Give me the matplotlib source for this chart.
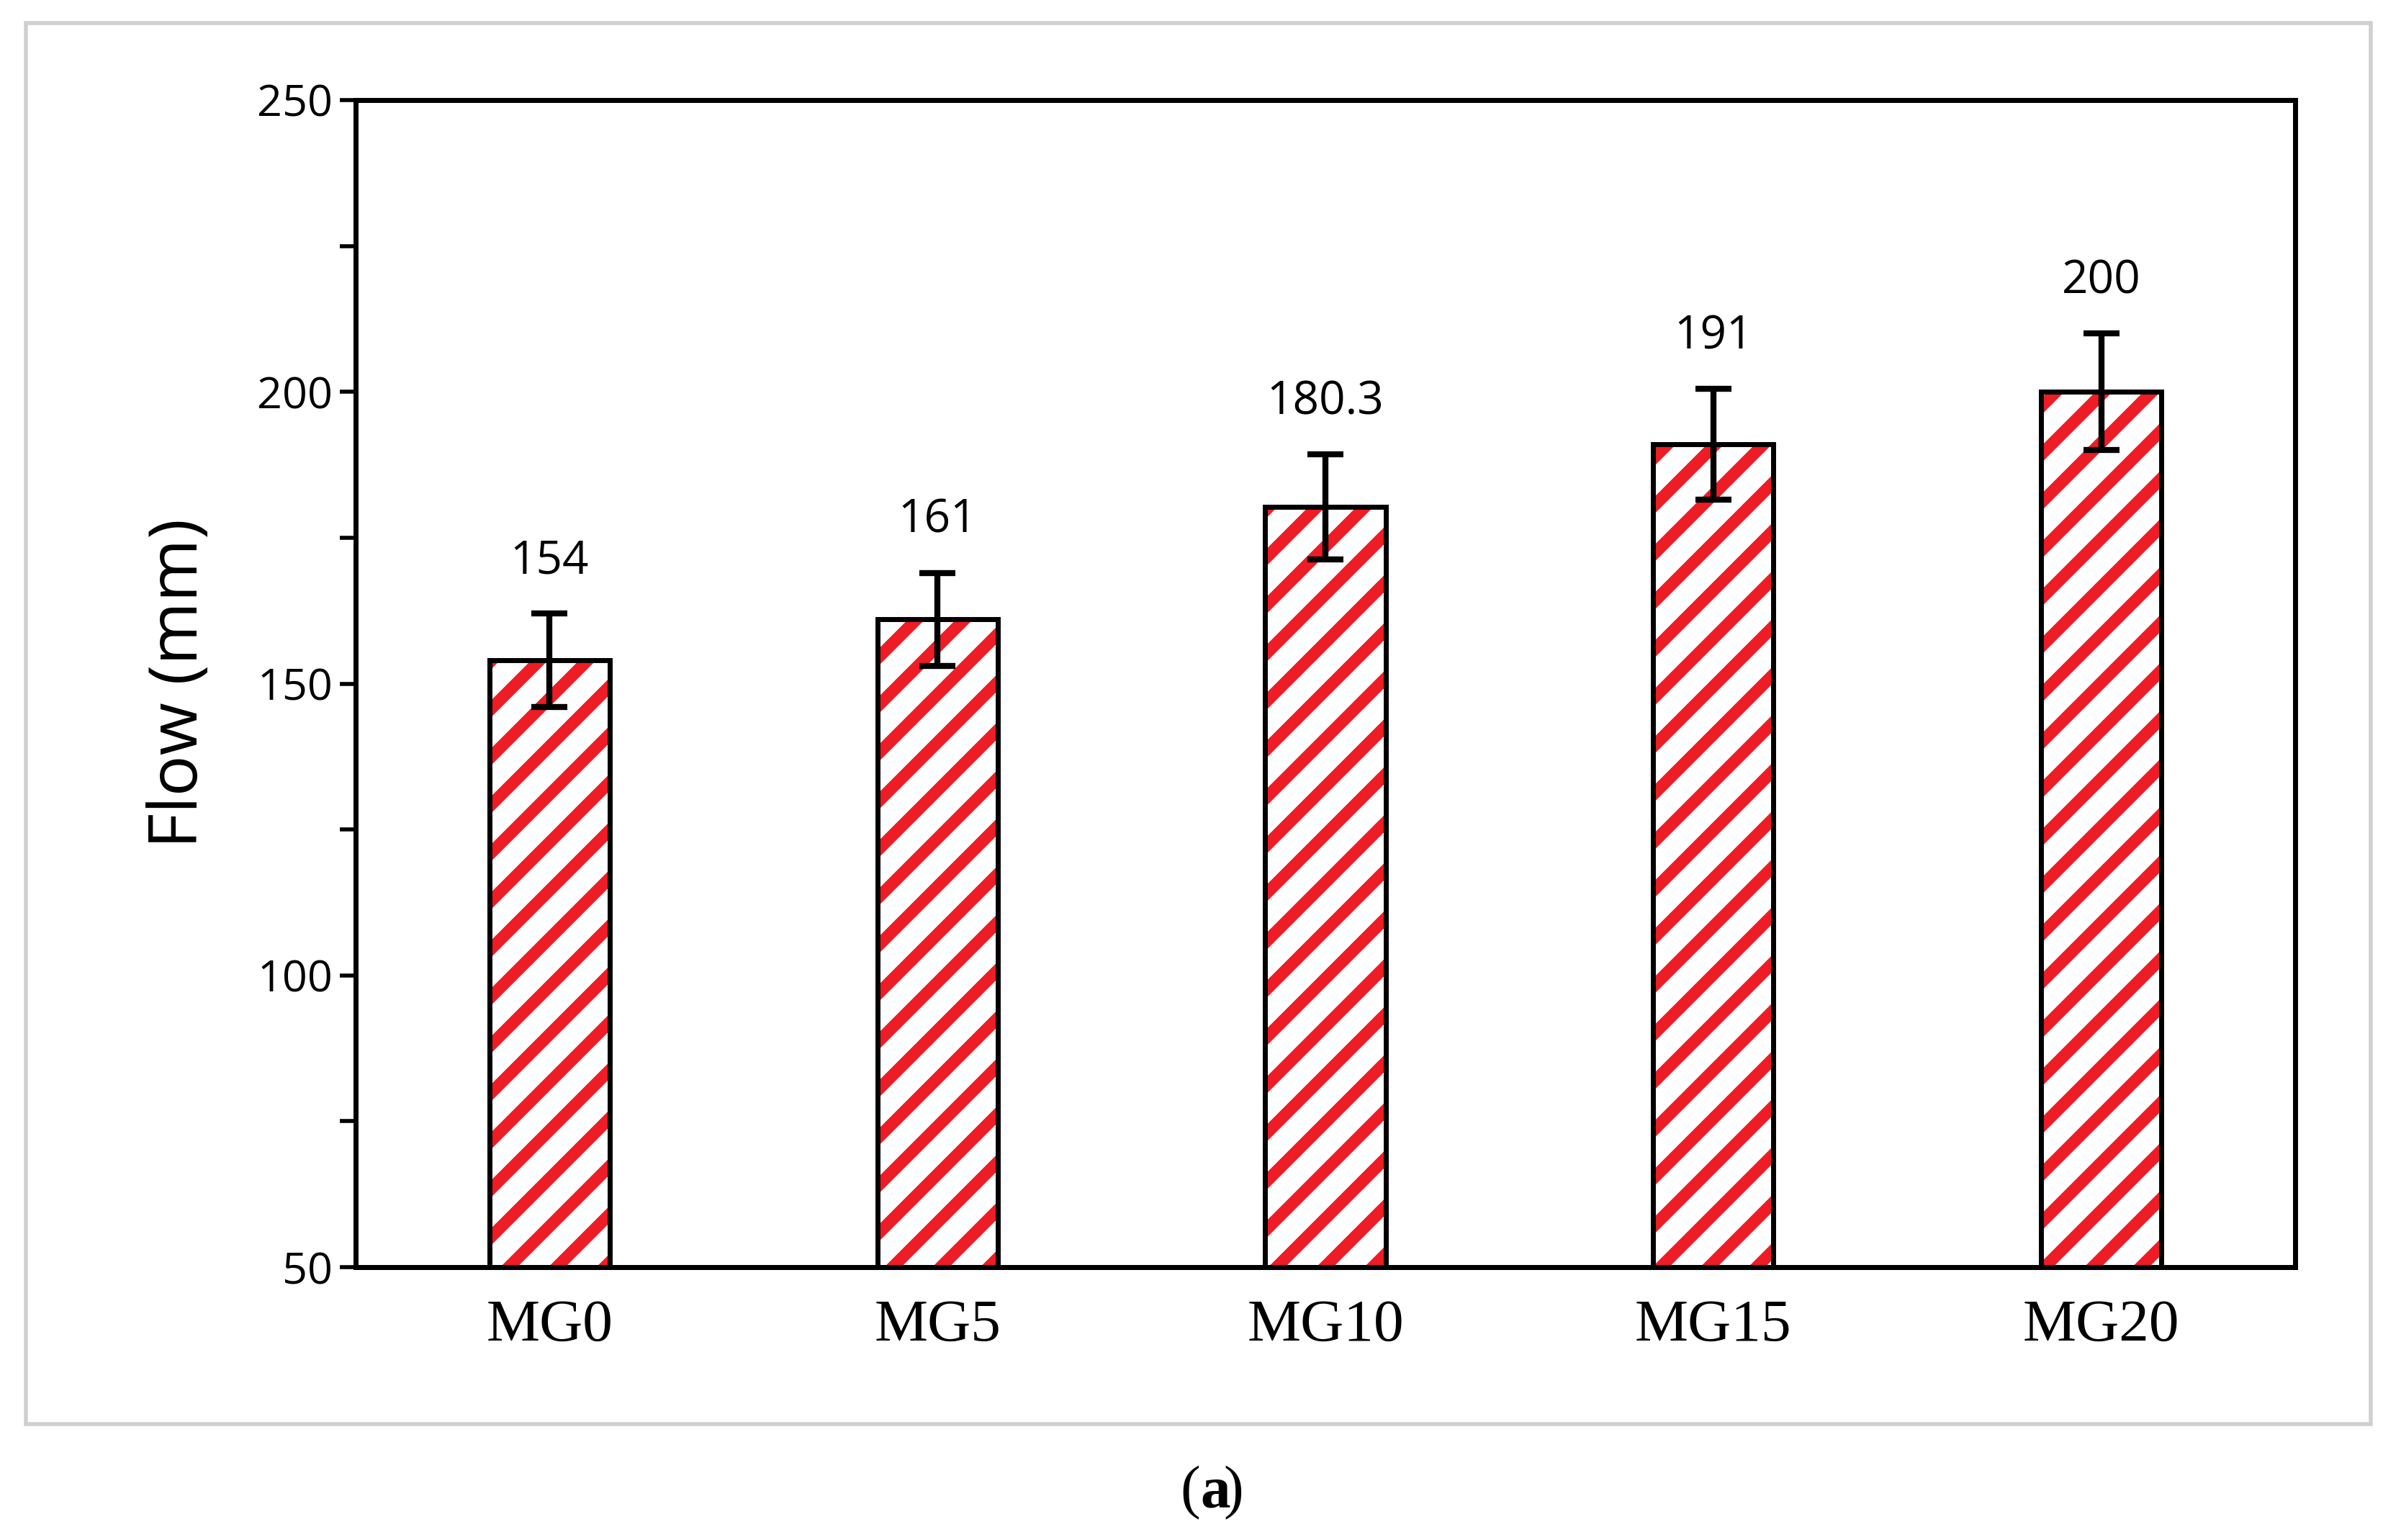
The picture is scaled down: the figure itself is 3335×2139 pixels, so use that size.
import numpy as np
import matplotlib.pyplot as plt
from matplotlib.patches import Rectangle

labels = ['MG0', 'MG5', 'MG10', 'MG15', 'MG20']
flow = [154, 161, 180.3, 191, 200]
err = [8, 8, 9, 9.5, 10]
value_text = ['154', '161', '180.3', '191', '200']

plt.rcParams['hatch.linewidth'] = 6
plt.rcParams['hatch.color'] = '#ee1c25'

fig = plt.figure(figsize=(16.675, 10.695), dpi=200)
# light grey frame around the chart
fig.patches.append(Rectangle((36 / 3335, 1 - 1978 / 2139), (3293 - 36) / 3335, (1978 - 32) / 2139,
                             transform=fig.transFigure, fill=False, edgecolor='#d0d0d0', linewidth=2))
ax = fig.add_axes([494 / 3335, 1 - 1760 / 2139, (3188 - 494) / 3335, (1760 - 139) / 2139])

x = np.arange(len(labels))
ax.bar(x, np.array(flow) - 50, bottom=50, width=0.31, color='white', hatch='/',
       edgecolor='#ee1c25', linewidth=0)
ax.bar(x, np.array(flow) - 50, bottom=50, width=0.31, fill=False, edgecolor='black', linewidth=2.5)
ax.errorbar(x, flow, yerr=err, fmt='none', ecolor='black', elinewidth=3, capsize=9, capthick=3)
for xi, v, t, e in zip(x, flow, value_text, err):
    ax.text(xi, v + e + 5, t, ha='center', va='bottom', fontsize=23, family='Open Sans')

ax.set_xlim(-0.5, 4.5)
ax.set_ylim(50, 250)
ax.set_yticks(range(50, 251, 50))
ax.set_yticks(range(50, 251, 25), minor=True)
ax.set_xticks(x)
ax.set_xticklabels(labels, fontsize=30, family='Liberation Serif')
ax.tick_params(axis='x', length=0, pad=16)
ax.tick_params(axis='y', which='both', direction='out', length=8, width=2, labelsize=22)
for lab in ax.get_yticklabels():
    lab.set_family('Open Sans')
for s in ax.spines.values():
    s.set_linewidth(2.5)
ax.set_ylabel('Flow (mm)', fontsize=34, family='Open Sans', labelpad=22)

yc = 1 - 2074 / 2139
fig.text(0.5, yc, '(', ha='right', va='center', fontsize=30, family='Liberation Serif')
fig.text(0.5, yc, 'a', ha='left', va='center', fontsize=30, family='Liberation Serif', fontweight='bold')
fig.text(0.5 + 0.0095, yc, ')', ha='left', va='center', fontsize=30, family='Liberation Serif')
fig.savefig('out.png', dpi=200)
